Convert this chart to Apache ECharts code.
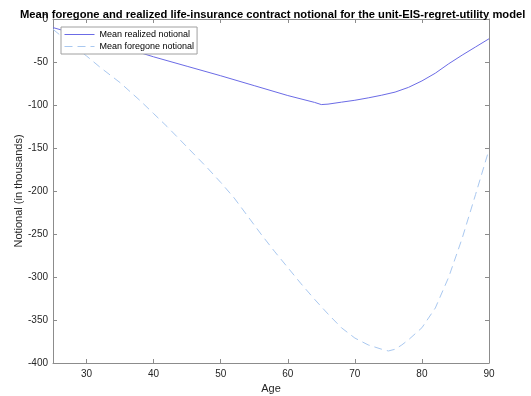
<!DOCTYPE html>
<html><head><meta charset="utf-8">
<script src="https://cdn.jsdelivr.net/npm/echarts@6/dist/echarts.min.js"></script>
<style>html,body{margin:0;padding:0;background:#fff}#c{width:531px;height:396px}</style>
</head><body><div id="c"></div>
<script>
const titleText = 'Mean foregone and realized life-insurance contract notional for the unit-EIS-regret-utility model';
const xTicks = [30, 40, 50, 60, 70, 80, 90];
const realizedAges = [25,30,35,40,45,50,55,60,64,65,66,68,70,72,74,76,78,80,82,84,86,88,90];
const realizedVals = [-10,-21,-32,-44,-55,-66,-77.5,-89,-97,-99.5,-99,-96.7,-94.5,-91.7,-88.6,-85,-79.5,-72,-63,-52,-42,-32.5,-23];
const foregoneAges = [25,28,30,32,35,38,40,42,44,46,48,50,52,54,56,58,60,62,64,66,68,70,72,74,75,76,77,78,80,82,84,86,88,90];
const foregoneVals = [-12,-31,-43,-56,-74,-95,-110,-125,-141,-157,-173,-190,-208,-229,-250,-270,-289,-308,-326,-343,-359,-371,-379,-384,-386,-384,-379,-373,-359,-336,-300,-255,-204,-152];

const zip = (a, b) => a.map((v, i) => [v, b[i]]);
const font = 'Liberation Sans, Arial, sans-serif';
const axisColor = '#8c8c8c';
const labelColor = '#262626';

const chart = echarts.init(document.getElementById('c'), null, {renderer: 'canvas'});
chart.setOption({
  animation: false,
  backgroundColor: '#fff',
  title: {
    text: titleText, left: 15, top: 4,
    textStyle: {fontFamily: font, fontSize: 11.2, fontWeight: 'bold', color: '#000'}
  },
  grid: {left: 53, right: 42, top: 19, bottom: 33, containLabel: false, outerBoundsMode: 'none'},
  legend: {
    left: 61, top: 27, orient: 'vertical',
    itemWidth: 30, itemHeight: 8, itemGap: 3,
    padding: [3, 3, 3, 3],
    borderColor: '#a0a0a0', borderWidth: 1, backgroundColor: '#fff',
    itemStyle: {opacity: 0},
    lineStyle: {width: 1},
    textStyle: {fontFamily: font, fontSize: 9, color: '#000'},
    data: ['Mean realized notional', 'Mean foregone notional']
  },
  xAxis: [{
    type: 'value', min: 25, max: 90,
    name: 'Age', nameLocation: 'middle', nameGap: 20, nameMoveOverlap: false,
    nameTextStyle: {fontFamily: font, fontSize: 11, color: labelColor},
    axisLine: {show: true, onZero: false, lineStyle: {color: axisColor}},
    axisTick: {show: true, inside: true, length: 4, customValues: xTicks, lineStyle: {color: axisColor}},
    axisLabel: {customValues: xTicks, fontFamily: font, fontSize: 10, color: labelColor, margin: 6},
    splitLine: {show: false}
  }, {
    type: 'value', min: 25, max: 90, position: 'top',
    axisLine: {show: true, onZero: false, lineStyle: {color: axisColor}},
    axisTick: {show: true, inside: true, length: 4, customValues: xTicks, lineStyle: {color: axisColor}},
    axisLabel: {show: false}, splitLine: {show: false}
  }],
  yAxis: [{
    type: 'value', min: -400, max: 0, interval: 50,
    name: 'Notional (in thousands)', nameLocation: 'middle', nameGap: 29, nameMoveOverlap: false,
    nameTextStyle: {fontFamily: font, fontSize: 11, color: labelColor},
    axisLine: {show: true, onZero: false, lineStyle: {color: axisColor}},
    axisTick: {show: true, inside: true, length: 4, lineStyle: {color: axisColor}},
    axisLabel: {fontFamily: font, fontSize: 10, color: labelColor, margin: 5},
    splitLine: {show: false}
  }, {
    type: 'value', min: -400, max: 0, interval: 50, position: 'right',
    axisLine: {show: true, onZero: false, lineStyle: {color: axisColor}},
    axisTick: {show: true, inside: true, length: 4, lineStyle: {color: axisColor}},
    axisLabel: {show: false}, splitLine: {show: false}
  }],
  series: [{
    name: 'Mean realized notional', type: 'line', symbol: 'none',
    data: zip(realizedAges, realizedVals),
    lineStyle: {color: '#6b6be6', width: 1},
    itemStyle: {color: '#6b6be6'}
  }, {
    name: 'Mean foregone notional', type: 'line', symbol: 'none',
    data: zip(foregoneAges, foregoneVals),
    lineStyle: {color: '#a9c8f0', width: 1, type: [8, 5]},
    itemStyle: {color: '#a9c8f0'}
  }]
});
</script></body></html>
